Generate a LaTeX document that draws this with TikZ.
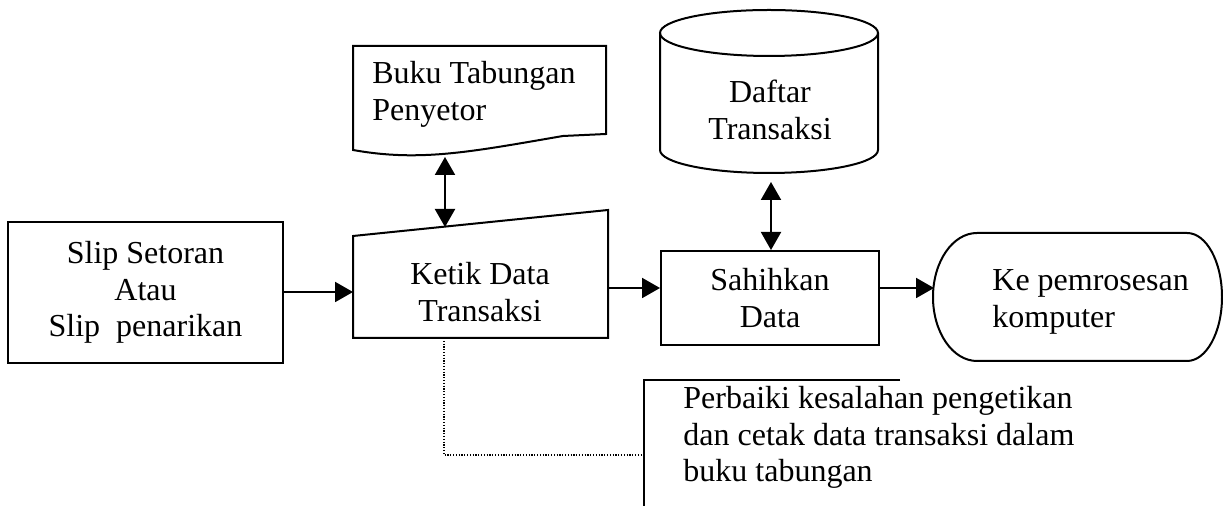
\documentclass[tikz,border=0pt]{standalone}
\usepackage{fontspec}
\setmainfont{Liberation Serif}
\usetikzlibrary{arrows.meta}
\tikzset{
  outline/.style={line width=1pt},
  flow/.style={line width=1pt,-{Triangle[length=9pt,width=10pt]}},
  flowboth/.style={line width=1pt,{Triangle[length=9pt,width=10pt]}-{Triangle[length=9pt,width=10pt]}},
  txt/.style={font=\fontsize{16}{18.2}\selectfont,inner sep=0pt},
  procbox/.style={outline,draw,font=\fontsize{16}{18.2}\selectfont,align=center,inner sep=0pt},
  noteline/.style={line width=0.7pt,dash pattern=on 0.6pt off 0.8pt},
}
\begin{document}
\begin{tikzpicture}[x=0.5pt,y=-0.5pt]
\useasboundingbox (0,0) rectangle (1223,506);

% source document: deposit / withdrawal slip
\node[procbox,minimum width=137.5pt,minimum height=70.5pt] (slip) at (145.5,292.5)
  {Slip Setoran\\Atau\\Slip~~penarikan};

% manual input: type the transaction
\draw[outline] (353,236) -- (608,210) -- (608,338) -- (353,338) -- cycle;
\node[txt,align=center] (ketik) at (480,292) {Ketik Data\\Transaksi};
\coordinate (ketikW) at (353,292);
\coordinate (ketikE) at (608,288);
\coordinate (ketikT) at (445,227);
\coordinate (ketikB) at (444,338);

% document: depositor's savings book
\draw[outline] (353,150) -- (353,46) -- (606,46) -- (606,134) -- (563,136)
  .. controls (470,152) and (420,162) .. (353,150) -- cycle;
\node[txt,align=left,anchor=west] (buku) at (372,94.5) {Buku Tabungan\\Penyetor};
\coordinate (bukuB) at (445,157);

% stored data: transaction list
\draw[outline] (660,33) -- (660,150) arc[start angle=180,end angle=0,x radius=109,y radius=23] -- (878,33);
\draw[outline] (769,33) ellipse [x radius=109,y radius=23];
\node[txt,align=center] (daftar) at (770,110) {Daftar\\Transaksi};
\coordinate (daftarB) at (771,182);

% process: validate data
\node[procbox,minimum width=109pt,minimum height=47pt] (sah) at (770,298) {Sahihkan\\Data};

% terminator: to computer processing
\draw[outline] (977,233) -- (1187,233) arc[start angle=-90,end angle=90,x radius=35,y radius=64]
  -- (977,361) arc[start angle=90,end angle=270,x radius=44,y radius=64] -- cycle;
\node[txt,align=left,anchor=west] (term) at (992,302) {Ke pemrosesan\\komputer};
\coordinate (termW) at (934,288);

% annotation
\draw[outline] (900,380) -- (644,380) -- (644,506);
\coordinate (noteW) at (644,455);
\node[txt,align=left,anchor=west] (note) at (683,437.5)
  {Perbaiki kesalahan pengetikan\\dan cetak data transaksi dalam\\buku tabungan};

% connectors
\draw[flow] (slip.east |- ketikW) -- (ketikW);
\draw[flowboth] (bukuB) -- (ketikT);
\draw[flow] (ketikE) -- (ketikE -| sah.west);
\draw[flowboth] (daftarB) -- (daftarB |- sah.north);
\draw[flow] (sah.east |- termW) -- (termW);
\draw[noteline] (ketikB) |- (noteW);
\end{tikzpicture}
\end{document}
